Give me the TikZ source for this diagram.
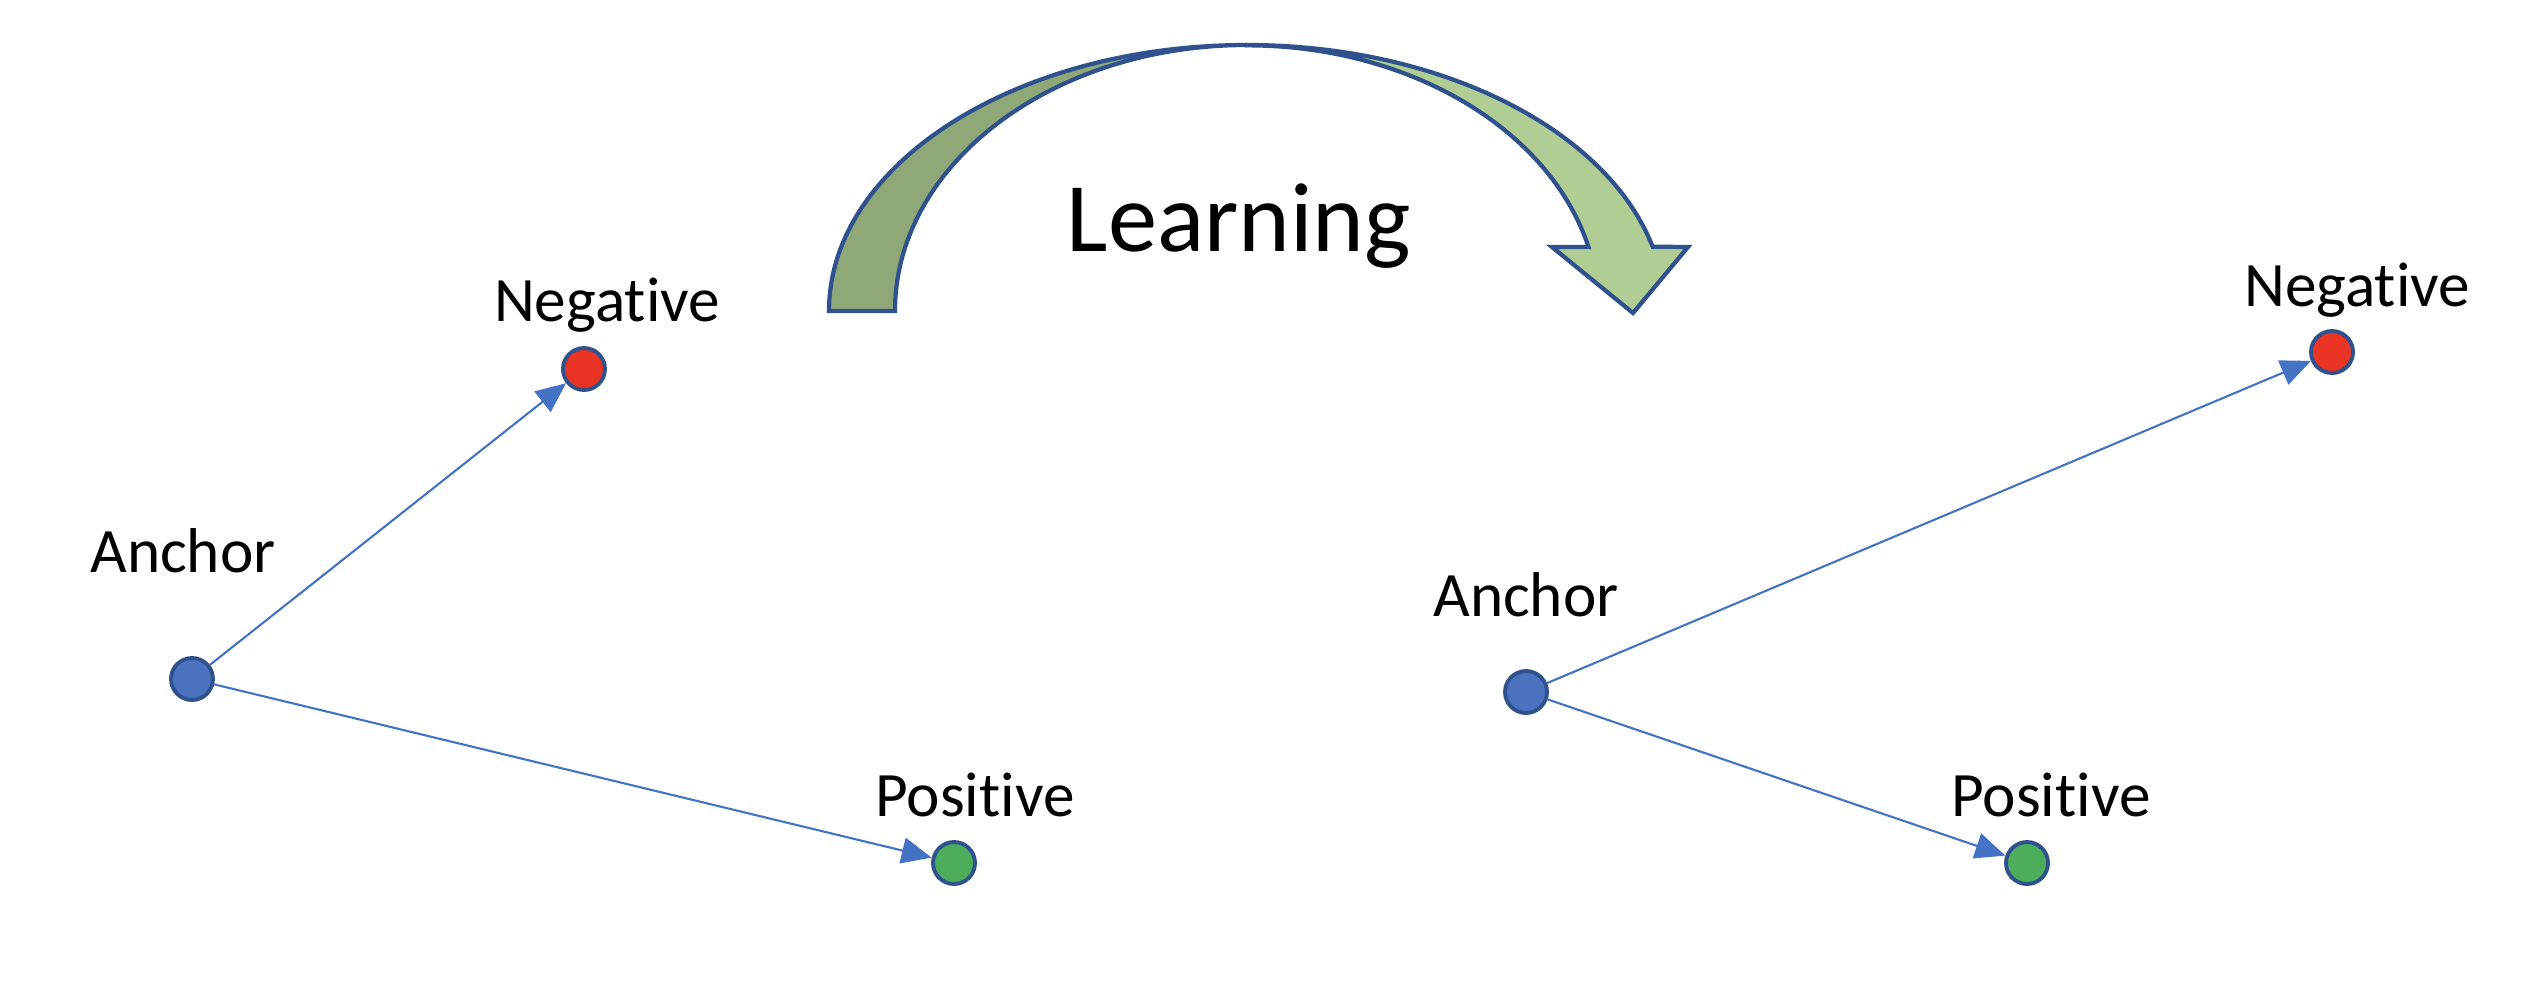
\documentclass[tikz,border=0pt]{standalone}
\usepackage{fontspec}
\setmainfont{Carlito}[RawFeature={-liga;-clig;-dlig;-calt;-rlig}]
\usetikzlibrary{arrows.meta}

\definecolor{edgeblue}{HTML}{4472C4}
\definecolor{ringblue}{HTML}{2F528F}
\definecolor{anchorfill}{HTML}{4A72BE}
\definecolor{negfill}{HTML}{E93424}
\definecolor{posfill}{HTML}{4CAD5B}
\definecolor{banddark}{HTML}{8FA878}
\definecolor{bandlight}{HTML}{B0CE94}

\begin{document}
\begin{tikzpicture}[
dot/.style={
	circle,minimum size=4.2mm,inner sep=0pt,
	draw=ringblue,line width=1.1pt},
txt/.style={anchor=base,inner sep=0pt,font=\fontsize{18}{20}\selectfont},
link/.style={draw=edgeblue,line width=0.6pt,-{Triangle[length=3mm,width=2.6mm]}},
band/.style={draw=ringblue,line width=1.2pt,line join=miter},
]
\useasboundingbox (0,0) rectangle (25.4,-9.84);
% before learning
\node[dot,fill=anchorfill] (anchorL) at (1.92,-6.79) {};
\node[dot,fill=negfill] (negL) at (5.84,-3.69) {};
\node[dot,fill=posfill] (posL) at (9.54,-8.63) {};
\node[txt] (anchorLtxt) at (1.83,-5.72) {Anchor};
\node[txt] (negLtxt) at (6.07,-3.21) {Negat\kern0pt ive};
\node[txt] (posLtxt) at (9.75,-8.16) {Posit\kern0pt ive};
\draw[link] (anchorL) -- (negL);
\draw[link] (anchorL) -- (posL);
% after learning
\node[dot,fill=anchorfill] (anchorR) at (15.26,-6.92) {};
\node[dot,fill=negfill] (negR) at (23.32,-3.52) {};
\node[dot,fill=posfill] (posR) at (20.27,-8.63) {};
\node[txt] (anchorRtxt) at (15.26,-6.16) {Anchor};
\node[txt] (negRtxt) at (23.57,-3.06) {Negat\kern0pt ive};
\node[txt] (posRtxt) at (20.51,-8.16) {Posit\kern0pt ive};
\draw[link] (anchorR) -- (negR);
\draw[link] (anchorR) -- (posR);
% curved arrow
\coordinate (mid) at (12.47,-3.11);
\filldraw[band,fill=banddark] ([xshift=-4.18cm]mid)
	arc[start angle=180,end angle=90,x radius=4.18,y radius=2.66]
	arc[start angle=90,end angle=180,x radius=3.52,y radius=2.66] -- cycle;
\filldraw[band,fill=bandlight] ([yshift=2.66cm]mid)
	arc[start angle=90,end angle=14,x radius=4.18,y radius=2.66]
	-- (16.88,-2.47) -- (16.33,-3.13) -- (15.52,-2.47) -- (15.885,-2.47)
	arc[start angle=14,end angle=90,x radius=3.52,y radius=2.66] -- cycle;
\node[txt,font=\fontsize{28}{32}\selectfont] (learn) at (12.39,-2.51) {Learning};
\end{tikzpicture}
\end{document}
